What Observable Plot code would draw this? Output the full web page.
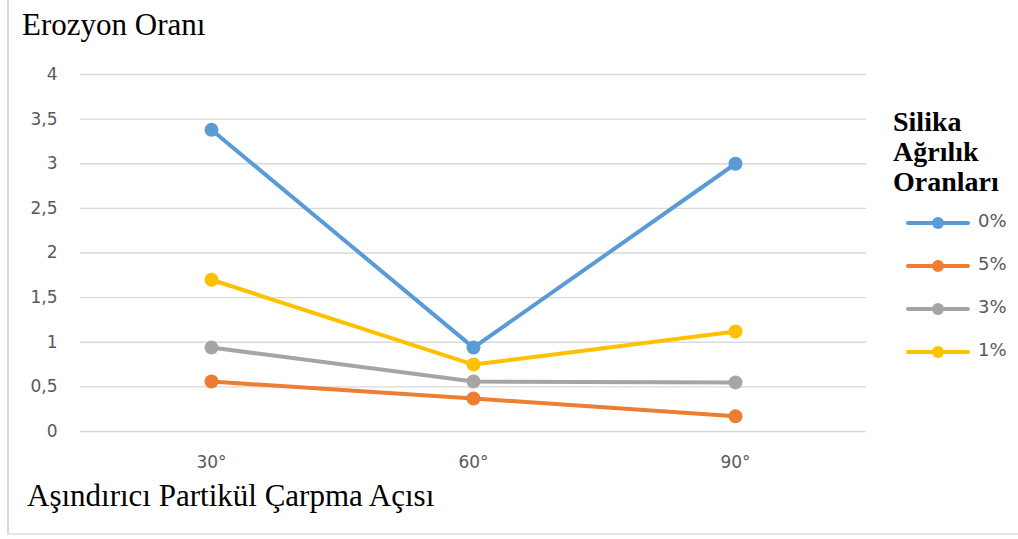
<!DOCTYPE html>
<html>
<head>
<meta charset="utf-8">
<script src="https://cdn.jsdelivr.net/npm/d3@7"></script>
<script src="https://cdn.jsdelivr.net/npm/@observablehq/plot@0.6"></script>
<style>
  html, body { margin: 0; padding: 0; background: #fff; }
  #wrap { position: relative; width: 1018px; height: 539px; overflow: hidden; }
  #frame { position: absolute; left: 7px; top: -2px; width: 1020px; height: 537px; border-left: 2px solid #d9d9d9; border-bottom: 2px solid #e6e6e6; box-sizing: border-box; }
  .ttl { position: absolute; font-family: "Liberation Serif", "Times New Roman", serif; color: #000; white-space: nowrap; }
  #title { left: 22px; top: 7px; font-size: 31px; }
  #xtitle { left: 27px; top: 478px; font-size: 31px; }
  #legtitle { left: 893px; top: 107px; font-size: 28px; font-weight: bold; line-height: 30px; }
  #legend { position: absolute; left: 905px; top: 210px; }
  .item { position: relative; height: 43px; }
  .item svg { position: absolute; left: 0; top: 0; }
  .item span { position: absolute; left: 73px; top: 0px; font-family: "DejaVu Sans", Verdana, sans-serif; font-size: 18px; color: #595959; }
</style>
</head>
<body>
<div id="wrap">
  <div id="chart"></div>
  <div id="frame"></div>
  <div id="title" class="ttl">Erozyon Oranı</div>
  <div id="xtitle" class="ttl">Aşındırıcı Partikül Çarpma Açısı</div>
  <div id="legtitle" class="ttl">Silika<br>Ağrılık<br>Oranları</div>
  <div id="legend"></div>
</div>
<script>
const angles = ["30°", "60°", "90°"];
const seriesNames = ["0%", "5%", "3%", "1%"];
const seriesColors = ["#5B9BD5", "#ED7D31", "#A5A5A5", "#FFC000"];
const silica0 = [3.38, 0.94, 3.0];
const silica5 = [0.56, 0.37, 0.17];
const silica3 = [0.94, 0.56, 0.55];
const silica1 = [1.70, 0.75, 1.12];
const yTicks = [0, 0.5, 1, 1.5, 2, 2.5, 3, 3.5, 4];

const seriesValues = [silica0, silica5, silica3, silica1];
const data = [];
seriesNames.forEach((s, i) => {
  angles.forEach((a, j) => data.push({series: s, angle: a, value: seriesValues[i][j]}));
});

const fmt = d => String(d).replace(".", ",");

const chart = Plot.plot({
  width: 1018,
  height: 539,
  marginLeft: 80,
  marginRight: 152,
  marginTop: 74,
  marginBottom: 108,
  style: {background: "transparent", overflow: "visible"},
  x: {type: "point", domain: angles, padding: 0.5, axis: null},
  y: {domain: [0, 4], axis: null},
  color: {domain: seriesNames, range: seriesColors},
  marks: [
    Plot.gridY(yTicks, {stroke: "#d9d9d9", strokeOpacity: 1, strokeWidth: 1.3}),
    Plot.axisY(yTicks, {tickSize: 0, tickPadding: 23, tickFormat: fmt, fontSize: 17, fill: "#595959", fontFamily: "DejaVu Sans, Verdana, sans-serif", label: null}),
    Plot.axisX(angles, {tickSize: 0, tickPadding: 24, fontSize: 17, fill: "#595959", fontFamily: "DejaVu Sans, Verdana, sans-serif", label: null}),
    Plot.line(data, {x: "angle", y: "value", z: "series", stroke: "series", strokeWidth: 4, curve: "linear"}),
    Plot.dot(data, {x: "angle", y: "value", fill: "series", r: 7, stroke: null})
  ]
});
document.getElementById("chart").appendChild(chart);

const legend = document.getElementById("legend");
seriesNames.forEach((s, i) => {
  const div = document.createElement("div");
  div.className = "item";
  div.innerHTML = `<svg width="66" height="26"><line x1="3" y1="13" x2="63" y2="13" stroke="${seriesColors[i]}" stroke-width="4" stroke-linecap="round"/><circle cx="33" cy="13" r="6" fill="${seriesColors[i]}"/></svg><span>${s}</span>`;
  legend.appendChild(div);
});
</script>
</body>
</html>
